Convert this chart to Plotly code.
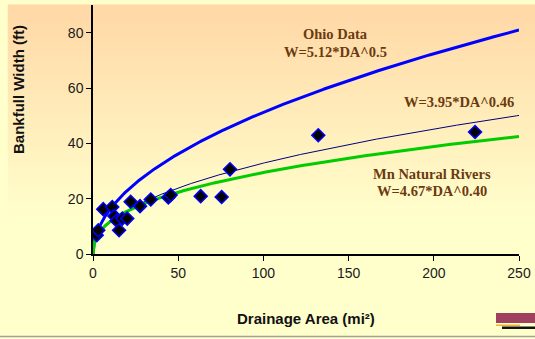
import numpy as np
import plotly.graph_objects as go

# Observed data (drainage area, bankfull width)
drainage_area = [2.2, 3.1, 6.0, 11.3, 12.5, 13.9, 15.3, 17.2, 20.1, 22.1, 27.6, 33.9,
                 44.2, 45.6, 63.2, 75.5, 80.4, 132.2, 224.2]
bankfull_width = [6.8, 8.6, 16.2, 17.0, 13.7, 12.0, 8.6, 12.8, 12.8, 18.9, 17.3, 19.7,
                  20.4, 21.3, 20.9, 20.6, 30.6, 42.9, 44.1]

# Regression curves shown on chart: W = a * DA^b
curve_names = ["Ohio Data", "Fit", "Mn Natural Rivers"]
curve_a = [5.12, 3.95, 4.67]
curve_b = [0.5, 0.46, 0.40]
curve_colors = ["#0000FF", "#000080", "#00CC00"]
curve_widths = [3, 1, 3]

x_ticks = [0, 50, 100, 150, 200, 250]
y_ticks = [0, 20, 40, 60, 80]

W, H = 535, 339
fig = go.Figure()

da_grid = np.linspace(0, 250, 600)
for name, a, b, c, w in zip(curve_names, curve_a, curve_b, curve_colors, curve_widths):
    fig.add_trace(go.Scatter(x=da_grid, y=a * da_grid ** b, mode="lines",
                             line=dict(color=c, width=w), name=name, hoverinfo="skip"))

fig.add_trace(go.Scatter(x=drainage_area, y=bankfull_width, mode="markers",
                         marker=dict(symbol="diamond", size=10, color="black",
                                     line=dict(color="#0000FF", width=1.5)),
                         name="Data"))

# gradient background via stacked shapes
shapes = []
top = np.array([0xFF, 0xD8, 0xA6])
bot = np.array([0xFF, 0xFF, 0xCC])
n = 60
for i in range(n):
    y0 = 1 - i / n
    y1 = 1 - (i + 1) / n
    t = min(1.0, (i + 0.5) / n / 0.85)
    col = top + (bot - top) * t
    shapes.append(dict(type="rect", xref="paper", yref="paper", x0=-0.2, x1=1.2,
                       y0=y1 - 0.002, y1=y0 + 0.002, layer="below", line=dict(width=0),
                       fillcolor="rgb(%d,%d,%d)" % tuple(col.astype(int))))

ml, mr, mt, mb = 93, 16, 5, 85
pw, ph = W - ml - mr, H - mt - mb
def px(xp):
    return (xp - ml) / pw
def py(yp):
    return (H - mb - yp) / ph

# bottom gray line
shapes.append(dict(type="line", xref="paper", yref="paper", x0=px(0), x1=px(W),
                   y0=py(336.5), y1=py(336.5), line=dict(color="#A0A0A0", width=1.5)))
# small logo
shapes.append(dict(type="rect", xref="paper", yref="paper", x0=px(496), x1=px(535),
                   y0=py(323), y1=py(313), fillcolor="#A0405E", line=dict(width=0)))
shapes.append(dict(type="rect", xref="paper", yref="paper", x0=px(496), x1=px(520),
                   y0=py(326), y1=py(324.5), fillcolor="#F0B030", line=dict(width=0)))
shapes.append(dict(type="rect", xref="paper", yref="paper", x0=px(502), x1=px(535),
                   y0=py(329), y1=py(326.5), fillcolor="#111111", line=dict(width=0)))

ann_font = dict(family="Liberation Serif, Times New Roman, serif", size=14.5, color="#6B3A10")
title_font = dict(family="Liberation Sans, Arial, sans-serif", size=15, color="#111111")
def ann(xp, yp, text, font, angle=0):
    return dict(x=px(xp), y=py(yp), xref="paper", yref="paper", text=text,
                xanchor="center", yanchor="middle", textangle=angle,
                showarrow=False, font=font)
annotations = [
    ann(335, 34, "<b>Ohio Data</b>", ann_font),
    ann(335, 52, "<b>W=5.12*DA^0.5</b>", ann_font),
    ann(459, 102, "<b>W=3.95*DA^0.46</b>", ann_font),
    ann(432, 174, "<b>Mn Natural Rivers</b>", ann_font),
    ann(432, 191, "<b>W=4.67*DA^0.40</b>", ann_font),
    ann(18, 90, "<b>Bankfull Width (ft)</b>", title_font, -90),
    ann(306, 318, "<b>Drainage Area (mi²)</b>", title_font),
]

fig.update_layout(
    width=W, height=H,
    margin=dict(l=ml, r=mr, t=mt, b=mb),
    paper_bgcolor="#FFFFCC", plot_bgcolor="rgba(0,0,0,0)",
    showlegend=False,
    shapes=shapes, annotations=annotations,
    font=dict(family="Liberation Sans, Arial, sans-serif", size=14, color="#1A1A1A"),
)
fig.update_xaxes(range=[0, 250], tickvals=x_ticks, showgrid=False, zeroline=False,
                 showline=True, linecolor="black", linewidth=1.5, ticks="outside",
                 ticklen=5, tickcolor="black", mirror=False)
fig.update_yaxes(range=[0, 90], tickvals=y_ticks, showgrid=False, zeroline=False,
                 showline=True, linecolor="black", linewidth=1.5, ticks="outside",
                 ticklen=5, tickcolor="black", mirror=False)

fig.write_html("out.html")
